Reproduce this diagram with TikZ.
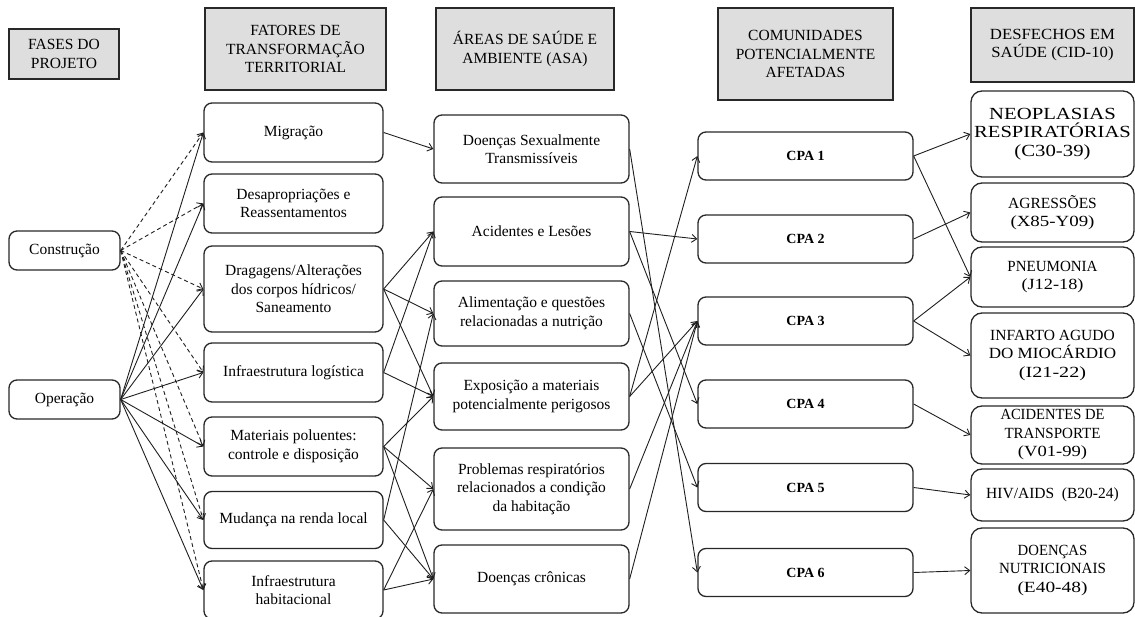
\documentclass[tikz,border=0pt]{standalone}
\usepackage{fontspec}
\usepackage{graphicx}
\setmainfont{Liberation Serif}
\usetikzlibrary{arrows.meta}
\definecolor{hdrfill}{RGB}{222,222,222}
\definecolor{edgecol}{RGB}{40,40,40}
\newcommand{\sx}[2]{\scalebox{#1}[1]{#2}}
\begin{document}
\begin{tikzpicture}[x=1pt,y=-1pt,
  sz/.style 2 args={minimum width=#1pt, minimum height=#2pt},
  txt/.style={font=\fontsize{15.5}{18.5}\selectfont, align=center, text=black},
  hdr/.style={txt, draw=edgecol, line width=1.3pt, fill=hdrfill, inner sep=0pt},
  rbox/.style={txt, draw=edgecol, line width=1.3pt, rounded corners=8pt, inner sep=0pt},
  obox/.style={rbox, rounded corners=11pt},
  cpabox/.style={draw=edgecol, line width=1.3pt, rounded corners=8pt, inner sep=0pt,
     font=\fontsize{14}{16}\selectfont\bfseries, text=black, minimum width=215pt, minimum height=48pt},
  arr/.style={draw=black!88, line width=0.9pt, -{Straight Barb[length=5pt,width=8pt]}},
  darr/.style={arr, dash pattern=on 4pt off 3pt},
]
\useasboundingbox (0,0) rectangle (1135,617);

% headers
\node[hdr, sz={110}{50}] (h1) at (64,54) {FASES DO\\PROJETO};
\node[hdr, sz={181}{82}] (h2) at (295.5,49) {FATORES DE\\TRANSFORMAÇÃO\\TERRITORIAL};
\node[hdr, sz={178}{82}] (h3) at (525,49) {ÁREAS DE SAÚDE E\\AMBIENTE (ASA)};
\node[hdr, sz={175}{92}] (h4) at (805.5,54) {COMUNIDADES\\POTENCIALMENTE\\AFETADAS};
\node[hdr, sz={163}{74}] (h5) at (1052.5,45) {\sx{1.08}{DESFECHOS EM}\\\sx{1.08}{SAÚDE (CID-10)}};

% phases
\node[rbox, sz={111}{39}] (cons) at (64.5,250.5) {Construção};
\node[rbox, sz={111}{39}] (oper) at (64.5,399.5) {Operação};

% factors
\node[rbox, sz={179}{59}] (f1) at (293.5,132.5) {Migração};
\node[rbox, sz={179}{59}] (f2) at (293.5,203.5) {Desapropriações e\\Reassentamentos};
\node[rbox, sz={179}{86}] (f3) at (293.5,289) {Dragagens/Alterações\\dos corpos hídricos/\\Saneamento};
\node[rbox, sz={179}{59}] (f4) at (293.5,372.5) {Infraestrutura logística};
\node[rbox, sz={179}{59}] (f5) at (293.5,446.5) {Materiais poluentes:\\controle e disposição};
\node[rbox, sz={179}{57}] (f6) at (293.5,520) {Mudança na renda local};
\node[rbox, sz={179}{58}] (f7) at (293.5,590) {Infraestrutura\\habitacional};

% health areas
\node[rbox, sz={195}{68}] (a1) at (531.5,149) {Doenças Sexualmente\\Transmissíveis};
\node[rbox, sz={195}{69}] (a2) at (531.5,231.5) {Acidentes e Lesões};
\node[rbox, sz={195}{65}] (a3) at (531.5,313.5) {Alimentação e questões\\relacionadas a nutrição};
\node[rbox, sz={195}{67}] (a4) at (531.5,396.5) {Exposição a materiais\\potencialmente perigosos};
\node[rbox, sz={195}{82}] (a5) at (531.5,489) {Problemas respiratórios\\relacionados a condição\\da habitação};
\node[rbox, sz={195}{68}] (a6) at (531.5,579) {Doenças crônicas};

% communities
\node[cpabox] (c1) at (805.5,156) {CPA 1};
\node[cpabox] (c2) at (805.5,239) {CPA 2};
\node[cpabox] (c3) at (805.5,321) {CPA 3};
\node[cpabox] (c4) at (805.5,404) {CPA 4};
\node[cpabox] (c5) at (805.5,487.5) {CPA 5};
\node[cpabox] (c6) at (805.5,572.5) {CPA 6};

% outcomes
\node[obox, sz={163}{86}, font=\fontsize{17}{18.5}\selectfont] (o1) at (1052.5,134) {\sx{1.22}{NEOPLASIAS}\\\sx{1.21}{RESPIRATÓRIAS}\\\sx{1.22}{(C30-39)}};
\node[obox, sz={163}{59}] (o2) at (1052.5,212.5) {AGRESSÕES\\\sx{1.22}{(X85-Y09)}};
\node[obox, sz={163}{60}] (o3) at (1052.5,277) {\sx{0.97}{PNEUMONIA}\\\sx{1.18}{(J12-18)}};
\node[obox, sz={163}{85}] (o4) at (1052.5,355.5) {INFARTO AGUDO\\\sx{1.1}{DO MIOCÁRDIO}\\\sx{1.3}{(I21-22)}};
\node[obox, sz={163}{58}] (o5) at (1052.5,435) {\sx{0.94}{ACIDENTES DE}\\\sx{0.97}{TRANSPORTE}\\\sx{1.2}{(V01-99)}};
\node[obox, sz={163}{52}] (o6) at (1052.5,495) {HIV/AIDS~ (B20-24)};
\node[obox, sz={163}{85}] (o7) at (1052.5,570.5) {\sx{0.95}{DOENÇAS}\\\sx{0.97}{NUTRICIONAIS}\\\sx{1.25}{(E40-48)}};

% phases -> factors
\foreach \f in {f1,f2,f3,f4,f5,f6,f7}{
  \draw[darr] (cons.east) -- (\f.west);
  \draw[arr] (oper.east) -- (\f.west);
}

% factors -> health areas
\draw[arr] (f1.east) -- (a1.west);
\draw[arr] (f3.east) -- (a2.west);
\draw[arr] (f3.east) -- (a3.west);
\draw[arr] (f3.east) -- (a4.west);
\draw[arr] (f4.east) -- (a2.west);
\draw[arr] (f4.east) -- (a4.west);
\draw[arr] (f5.east) -- (a4.west);
\draw[arr] (f5.east) -- (a5.west);
\draw[arr] (f5.east) -- (a6.west);
\draw[arr] (f6.east) -- (a3.west);
\draw[arr] (f6.east) -- (a6.west);
\draw[arr] (f7.east) -- (a5.west);
\draw[arr] (f7.east) -- (a6.west);

% health areas -> communities
\draw[arr] (a1.east) -- (c6.west);
\draw[arr] (a2.east) -- (c2.west);
\draw[arr] (a2.east) -- (c4.west);
\draw[arr] (a3.east) -- (c5.west);
\draw[arr] (a4.east) -- (c1.west);
\draw[arr] (a4.east) -- (c3.west);
\draw[arr] (a5.east) -- (c3.west);
\draw[arr] (a6.east) -- (c3.west);

% communities -> outcomes
\draw[arr] (c1.east) -- (o1.west);
\draw[arr] (c1.east) -- (o3.west);
\draw[arr] (c2.east) -- (o2.west);
\draw[arr] (c3.east) -- (o3.west);
\draw[arr] (c3.east) -- (o4.west);
\draw[arr] (c4.east) -- (o5.west);
\draw[arr] (c5.east) -- (o6.west);
\draw[arr] (c6.east) -- (o7.west);
\end{tikzpicture}
\end{document}
